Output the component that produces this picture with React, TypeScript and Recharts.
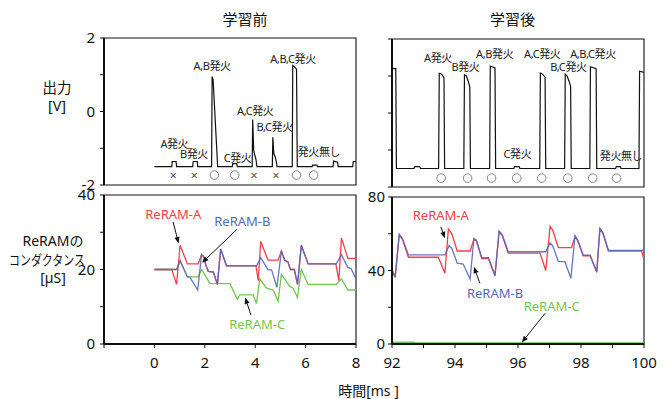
import React from 'react';
import { LineChart, Line, XAxis, YAxis, ReferenceArea, ReferenceDot, ReferenceLine } from 'recharts';

const FONT = "'Noto Sans', 'Noto Sans CJK JP', sans-serif";
const RED = '#f0404a';
const BLUE = '#5568b8';
const GREEN = '#74c453';

// ---- Output voltage [V], before learning (t in ms) ----
const outBefore = [
  [0, -1.5], [0.69, -1.5], [0.71, -1.36], [0.86, -1.36], [0.88, -1.5],
  [1.52, -1.5], [1.54, -1.36], [1.7, -1.36], [1.72, -1.5],
  [2.27, -1.5], [2.29, 0.95], [2.33, 0.86], [2.51, -1.5],
  [3.09, -1.5], [3.11, -1.42], [3.27, -1.42], [3.29, -1.5],
  [3.88, -1.5], [3.9, -0.22], [3.94, -1.05], [3.97, -1.15], [4.03, -1.3], [4.07, -1.5],
  [4.68, -1.5], [4.7, -0.7], [4.74, -1.15], [4.8, -1.25], [4.84, -1.38], [4.87, -1.5],
  [5.47, -1.5], [5.49, 1.25], [5.58, 1.2], [5.64, 1.15], [5.67, -1.5],
  [6.26, -1.5], [6.28, -1.46], [6.45, -1.46], [6.47, -1.5],
  [7.09, -1.5], [7.11, -1.35], [7.27, -1.38], [7.29, -1.5],
  [7.87, -1.5], [7.89, -1.36], [8, -1.36],
];

// ---- Output voltage [V], after learning ----
const outAfter = [
  [92, 1.2], [92.12, 1.2], [92.14, -1.5],
  [92.7, -1.5], [92.72, -1.45], [92.88, -1.45], [92.9, -1.5],
  [93.48, -1.5], [93.5, 1.07], [93.58, 1.05], [93.65, 0.95], [93.67, -1.5],
  [94.28, -1.5], [94.3, 1.03], [94.36, 1.0], [94.42, 0.86], [94.47, 0.7], [94.49, -1.5],
  [95.1, -1.5], [95.12, 1.27], [95.27, 1.22], [95.29, -1.5],
  [95.87, -1.5], [95.89, -1.45], [96.04, -1.45], [96.06, -1.5],
  [96.69, -1.5], [96.71, 1.08], [96.78, 1.05], [96.86, 0.97], [96.88, -1.5],
  [97.48, -1.5], [97.5, 1.05], [97.56, 1.0], [97.62, 0.86], [97.67, 0.72], [97.69, -1.5],
  [98.28, -1.5], [98.3, 1.25], [98.48, 1.2], [98.5, -1.5],
  [99.1, -1.5], [99.12, -1.45], [99.25, -1.45], [99.27, -1.5],
  [99.84, -1.5], [99.86, 1.13], [100, 1.1],
];

// ---- Conductance [uS], before learning ----
const condABefore = [
  [0, 20], [0.69, 20], [0.88, 16], [1.02, 26.5], [1.31, 21.5], [1.74, 21.5], [1.87, 24],
  [1.95, 23.5], [2.05, 21], [2.14, 19.5], [2.34, 19.3], [2.5, 16], [2.63, 25.5], [2.86, 21],
  [4.03, 21], [4.12, 17], [4.22, 27.5], [4.51, 22.5], [4.91, 22.5], [5.04, 25], [5.17, 22.5],
  [5.3, 22], [5.4, 20], [5.55, 20], [5.68, 16], [5.83, 26.5], [6.1, 21.5], [7.2, 21.5],
  [7.32, 17], [7.42, 28.5], [7.68, 23], [8, 23],
];
const condBBefore = [
  [0, 20], [0.88, 20], [1.02, 22.3], [1.31, 18], [1.4, 18], [1.72, 14.5], [1.87, 24],
  [1.95, 23.5], [2.05, 21], [2.14, 19.5], [2.34, 19.3], [2.5, 16], [2.63, 25.5], [2.86, 21],
  [4.05, 21], [4.22, 23.2], [4.51, 19.9], [4.65, 19.9], [4.86, 15.2], [5.04, 25], [5.17, 22.5],
  [5.3, 22], [5.4, 20], [5.55, 20], [5.68, 16], [5.83, 26.5], [6.1, 21.5], [7.22, 21.5],
  [7.42, 24], [7.68, 20.5], [7.8, 20.3], [8, 17.5],
];
const condCBefore = [
  [0, 20], [0.88, 20], [1.02, 22.5], [1.31, 18], [1.74, 18], [1.87, 20], [2.05, 18], [2.2, 16.3],
  [3.0, 16.2], [3.29, 12], [3.39, 13.2], [3.92, 13.2], [4.05, 10.8], [4.18, 17.5], [4.45, 15],
  [4.71, 14.5], [4.91, 11.5], [5.04, 18.7], [5.37, 15.5], [5.5, 15], [5.68, 12.5], [5.83, 20],
  [6.1, 16], [7.22, 16], [7.42, 17.5], [7.68, 14.5], [8, 14.5],
];

// ---- Conductance [uS], after learning ----
const condAAfter = [
  [92, 40.3], [92.1, 36.3], [92.23, 59.3], [92.33, 57], [92.52, 47.2], [93.47, 47.2], [93.68, 38.5],
  [93.79, 62.6], [93.9, 60], [94.07, 50.6], [94.48, 50.6], [94.6, 57], [94.68, 56], [94.85, 46.5],
  [95.06, 46.5], [95.27, 37], [95.4, 61], [95.5, 59], [95.69, 49.5], [96.7, 49.5], [96.88, 40],
  [97.02, 64], [97.1, 62], [97.28, 52.5], [97.7, 52.5], [97.81, 58.5], [97.9, 56], [98.07, 48],
  [98.29, 48], [98.5, 39], [98.6, 62.5], [98.7, 60], [98.87, 50.5], [99.93, 50.5], [100, 46],
];
const condBAfter = [
  [92, 40.3], [92.1, 36.3], [92.23, 59.8], [92.33, 57.5], [92.52, 48.5], [93.68, 48.5], [93.81, 53.5],
  [93.9, 52], [94.07, 44], [94.26, 43.5], [94.48, 35.3], [94.6, 57.5], [94.68, 56.5], [94.85, 47],
  [95.06, 47], [95.27, 37.5], [95.4, 61.5], [95.5, 59.5], [95.69, 50.2], [96.88, 50.2], [97.02, 55],
  [97.1, 53.5], [97.28, 45], [97.49, 44.8], [97.68, 35.8], [97.81, 59], [97.9, 56.5], [98.07, 48.3],
  [98.29, 48.3], [98.5, 39.3], [98.6, 63], [98.7, 60.5], [98.87, 51], [100, 51],
];
const condCAfter = [[92, 0.8], [92.7, 0.8], [92.75, 0.4], [100, 0.4]];

// ---- Firing labels [text, t, V] ----
const fireLabelsBefore: [string, number, number][] = [
  ['A発火', 0.79, -0.86], ['B発火', 1.57, -1.13], ['A,B発火', 2.29, 1.24], ['C発火', 3.3, -1.24],
  ['A,C発火', 4.0, 0.04], ['B,C発火', 4.77, -0.42], ['A,B,C発火', 5.5, 1.43], ['発火無し', 6.53, -1.1],
];
const fireLabelsAfter: [string, number, number][] = [
  ['A発火', 93.46, 1.49], ['B発火', 94.33, 1.27], ['A,B発火', 95.26, 1.62], ['C発火', 95.98, -1.09],
  ['A,C発火', 96.77, 1.62], ['B,C発火', 97.6, 1.27], ['A,B,C発火', 98.38, 1.62], ['発火無し', 99.27, -1.16],
];
// ---- Judgement marks [kind, t] ----
const marksBefore: [string, number][] = [
  ['x', 0.75], ['x', 1.58], ['o', 2.38], ['o', 3.19], ['x', 3.95], ['x', 4.82], ['o', 5.64], ['o', 6.32],
];
const marksAfter: [string, number][] = [
  ['o', 93.56], ['o', 94.4], ['o', 95.16], ['o', 95.96], ['o', 96.75], ['o', 97.58], ['o', 98.37], ['o', 99.13],
];
const markVBefore = -1.73;
const markVAfter = -1.76;

// ---- Series annotations [text, color, labelT, labelV, arrowFromT, arrowFromV, arrowToT, arrowToV] ----
const notesBefore: [string, string, number, number, number, number, number, number][] = [
  ['ReRAM-A', RED, 0.75, 34.9, 0.74, 32.8, 0.96, 27.0],
  ['ReRAM-B', BLUE, 3.49, 33.0, 3.28, 30.8, 1.89, 21.8],
  ['ReRAM-C', GREEN, 4.08, 5.3, 3.83, 7.8, 3.6, 12.5],
];
const notesAfter: [string, string, number, number, number, number, number, number][] = [
  ['ReRAM-A', RED, 93.55, 70.2, 93.55, 63.8, 93.68, 57.5],
  ['ReRAM-B', BLUE, 95.27, 27.8, 94.79, 33, 94.6, 42],
  ['ReRAM-C', GREEN, 97.07, 20.7, 96.86, 16.7, 96.12, 0.8],
];

// ---- Axis ticks ----
const xTicksBefore = [-2, 0, 2, 4, 6, 8];
const xTicksAfter = [92, 93, 94, 95, 96, 97, 98, 99, 100];
const vTicks = [-2, -1, 0, 1, 2];
const gTicksBefore = [0, 10, 20, 30, 40];
const gTicksAfter = [0, 20, 40, 60, 80];

const P = (arr: number[][]) => arr.map(([t, v]) => ({ t, v }));
const tickStyle = { fontSize: 15, fill: '#111', fontFamily: FONT };

const arrowShape = (props: any) => {
  const { x1, y1, x2, y2 } = props;
  const ang = Math.atan2(y2 - y1, x2 - x1);
  const L = 6.5, W = 2.6;
  const bx = x2 - L * Math.cos(ang);
  const by = y2 - L * Math.sin(ang);
  const px = -Math.sin(ang) * W;
  const py = Math.cos(ang) * W;
  return (
    <g>
      <line x1={x1} y1={y1} x2={bx} y2={by} stroke="#111" strokeWidth={1} />
      <polygon points={`${x2},${y2} ${bx + px},${by + py} ${bx - px},${by - py}`} fill="#111" />
    </g>
  );
};

const textShape = (text: string, color: string, size: number, spacing = 0) => (p: any) => (
  <text x={p.cx} y={p.cy} textAnchor="middle" dominantBaseline="central" fill={color}
    fontSize={size} fontFamily={FONT} letterSpacing={spacing}>{text}</text>
);

const markShape = (kind: string) => (p: any) =>
  kind === 'o' ? (
    <circle cx={p.cx} cy={p.cy} r={4.3} fill="none" stroke="#777" strokeWidth={0.9} />
  ) : (
    <text x={p.cx} y={p.cy} textAnchor="middle" dominantBaseline="central" fill="#555" fontSize={13} fontFamily={FONT}>×</text>
  );

const frame = (x1: number, x2: number, y1: number, y2: number) => (
  <ReferenceArea x1={x1} x2={x2} y1={y1} y2={y2} fill="none" fillOpacity={0} stroke="#111"
    strokeWidth={1.1} ifOverflow="visible" />
);

export default function App() {
  return (
    <div style={{ position: 'absolute', left: 0, top: 0, width: 669, height: 399, background: '#fff', overflow: 'hidden' }}>
      {/* Top-left: output before learning */}
      <div style={{ position: 'absolute', left: 0, top: 0 }}>
        <LineChart width={370} height={200} margin={{ top: 38, right: 14, bottom: 15, left: 0 }}>
          <XAxis dataKey="t" type="number" domain={[-2, 8]} allowDataOverflow hide />
          <YAxis type="number" domain={[-2, 2]} ticks={vTicks} interval={0} width={104}
            tick={tickStyle} tickSize={4} tickMargin={5} axisLine={{ stroke: '#111', strokeWidth: 2 }}
            tickLine={{ stroke: '#111' }} tickFormatter={(v: number) => (v % 2 === 0 ? String(v) : '')} />
          {frame(-2, 8, -2, 2)}
          <Line data={P(outBefore)} dataKey="v" type="linear" stroke="#111" strokeWidth={1.2} dot={false} isAnimationActive={false} />
          {fireLabelsBefore.map(([s, t, v]) => (
            <ReferenceDot key={s} x={t} y={v} r={0} ifOverflow="visible" shape={textShape(s, '#222', 11, -0.4)} />
          ))}
          {marksBefore.map(([k, t], i) => (
            <ReferenceDot key={'m' + i} x={t} y={markVBefore} r={0} ifOverflow="visible" shape={markShape(k)} />
          ))}
        </LineChart>
      </div>

      {/* Bottom-left: conductance before learning */}
      <div style={{ position: 'absolute', left: 0, top: 175 }}>
        <LineChart width={370} height={224} margin={{ top: 20, right: 14, bottom: 25, left: 0 }}>
          <XAxis dataKey="t" type="number" domain={[-2, 8]} allowDataOverflow ticks={xTicksBefore} interval={0}
            height={30} tick={tickStyle} tickSize={4} tickMargin={9}
            axisLine={{ stroke: '#111', strokeWidth: 2 }} tickLine={{ stroke: '#111' }}
            tickFormatter={(v: number) => (v < 0 ? '' : String(v))} />
          <YAxis type="number" domain={[0, 40]} ticks={gTicksBefore} interval={0} width={104}
            tick={tickStyle} tickSize={4} tickMargin={5} axisLine={{ stroke: '#111', strokeWidth: 2 }}
            tickLine={{ stroke: '#111' }} tickFormatter={(v: number) => (v % 20 === 0 ? String(v) : '')} />
          {frame(-2, 8, 0, 40)}
          <Line data={P(condCBefore)} dataKey="v" type="linear" stroke={GREEN} strokeWidth={1.3} dot={false} isAnimationActive={false} />
          <Line data={P(condABefore)} dataKey="v" type="linear" stroke={RED} strokeWidth={1.3} dot={false} isAnimationActive={false} />
          <Line data={P(condBBefore)} dataKey="v" type="linear" stroke={BLUE} strokeOpacity={0.9} strokeWidth={1.3} dot={false} isAnimationActive={false} />
          {notesBefore.map(([s, c, lt, lv, ft, fv, tt, tv]) => (
            <ReferenceLine key={'a' + s} segment={[{ x: ft, y: fv }, { x: tt, y: tv }]} ifOverflow="visible" shape={arrowShape} />
          ))}
          {notesBefore.map(([s, c, lt, lv]) => (
            <ReferenceDot key={s} x={lt} y={lv} r={0} ifOverflow="visible" shape={textShape(s, c, 13)} />
          ))}
        </LineChart>
      </div>

      {/* Top-right: output after learning */}
      <div style={{ position: 'absolute', left: 340, top: 0 }}>
        <LineChart width={329} height={200} margin={{ top: 39, right: 25, bottom: 13, left: 0 }}>
          <XAxis dataKey="t" type="number" domain={[92, 100]} allowDataOverflow hide />
          <YAxis type="number" domain={[-2, 2]} ticks={vTicks} interval={0} width={52}
            tick={tickStyle} tickSize={4} tickMargin={3} axisLine={{ stroke: '#111', strokeWidth: 2 }}
            tickLine={{ stroke: '#111' }} tickFormatter={() => ''} />
          {frame(92, 100, -2, 2)}
          <Line data={P(outAfter)} dataKey="v" type="linear" stroke="#111" strokeWidth={1.2} dot={false} isAnimationActive={false} />
          {fireLabelsAfter.map(([s, t, v]) => (
            <ReferenceDot key={s} x={t} y={v} r={0} ifOverflow="visible" shape={textShape(s, '#222', 11, -0.4)} />
          ))}
          {marksAfter.map(([k, t], i) => (
            <ReferenceDot key={'m' + i} x={t} y={markVAfter} r={0} ifOverflow="visible" shape={markShape(k)} />
          ))}
        </LineChart>
      </div>

      {/* Bottom-right: conductance after learning */}
      <div style={{ position: 'absolute', left: 340, top: 175 }}>
        <LineChart width={329} height={224} margin={{ top: 22, right: 25, bottom: 25, left: 0 }}>
          <XAxis dataKey="t" type="number" domain={[92, 100]} allowDataOverflow ticks={xTicksAfter} interval={0}
            height={30} tick={tickStyle} tickSize={4} tickMargin={9}
            axisLine={{ stroke: '#111', strokeWidth: 2 }} tickLine={{ stroke: '#111' }}
            tickFormatter={(v: number) => (v % 2 === 0 ? String(v) : '')} />
          <YAxis type="number" domain={[0, 80]} ticks={gTicksAfter} interval={0} width={52}
            tick={tickStyle} tickSize={4} tickMargin={3} axisLine={{ stroke: '#111', strokeWidth: 2 }}
            tickLine={{ stroke: '#111' }} tickFormatter={(v: number) => (v % 40 === 0 ? String(v) : '')} />
          {frame(92, 100, 0, 80)}
          <Line data={P(condCAfter)} dataKey="v" type="linear" stroke={GREEN} strokeWidth={2} dot={false} isAnimationActive={false} />
          <Line data={P(condAAfter)} dataKey="v" type="linear" stroke={RED} strokeWidth={1.3} dot={false} isAnimationActive={false} />
          <Line data={P(condBAfter)} dataKey="v" type="linear" stroke={BLUE} strokeOpacity={0.9} strokeWidth={1.3} dot={false} isAnimationActive={false} />
          {notesAfter.map(([s, c, lt, lv, ft, fv, tt, tv]) => (
            <ReferenceLine key={'a' + s} segment={[{ x: ft, y: fv }, { x: tt, y: tv }]} ifOverflow="visible" shape={arrowShape} />
          ))}
          {notesAfter.map(([s, c, lt, lv]) => (
            <ReferenceDot key={s} x={lt} y={lv} r={0} ifOverflow="visible" shape={textShape(s, c, 13)} />
          ))}
        </LineChart>
      </div>

      {/* Titles and axis names */}
      <svg width={669} height={399} style={{ position: 'absolute', left: 0, top: 0, pointerEvents: 'none' }}>
        <g fontFamily={FONT} fill="#111" textAnchor="middle" dominantBaseline="central">
          <text x={245} y={19} fontSize={15}>学習前</text>
          <text x={512.5} y={19} fontSize={15}>学習後</text>
          <text x={57} y={87} fontSize={14.5}>出力</text>
          <text x={57} y={105} fontSize={14.5}>[V]</text>
          <text x={53} y={240} fontSize={14}>ReRAMの</text>
          <text x={47} y={259} fontSize={14} textLength={76} lengthAdjust="spacingAndGlyphs">コンダクタンス</text>
          <text x={53} y={277} fontSize={14}>[µS]</text>
          <text x={368.5} y={390} fontSize={14}>時間[ms ]</text>
        </g>
      </svg>
    </div>
  );
}
